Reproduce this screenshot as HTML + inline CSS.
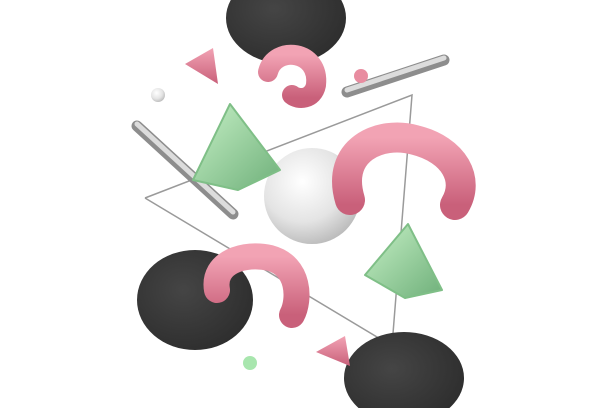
<!DOCTYPE html>
<html><head><meta charset="utf-8"><style>
html,body{margin:0;padding:0;background:#fff;width:612px;height:408px;overflow:hidden}
</style></head><body>
<svg width="612" height="408" viewBox="0 0 612 408">
<defs>
<radialGradient id="sph" cx="0.4" cy="0.35" r="0.7"><stop offset="0" stop-color="#ffffff"/><stop offset="0.6" stop-color="#e4e4e4"/><stop offset="1" stop-color="#b8b8b8"/></radialGradient>
<radialGradient id="dk" cx="0.4" cy="0.4" r="0.7"><stop offset="0" stop-color="#454545"/><stop offset="1" stop-color="#2c2c2c"/></radialGradient>
<linearGradient id="pk" x1="0" y1="0" x2="0" y2="1"><stop offset="0" stop-color="#f2a3b4"/><stop offset="1" stop-color="#c9607a"/></linearGradient>
<linearGradient id="gr" x1="0" y1="0" x2="1" y2="1"><stop offset="0" stop-color="#c6f0c6"/><stop offset="1" stop-color="#6fb07a"/></linearGradient>
<linearGradient id="rod" x1="0" y1="0" x2="0" y2="1"><stop offset="0" stop-color="#f2f2f2"/><stop offset="1" stop-color="#9a9a9a"/></linearGradient>
</defs>
<g fill="none" stroke="#9a9a9a" stroke-width="1.5">
<polyline points="145,198 412,95 392,346 145,198"/>
</g>
<ellipse cx="286" cy="18" rx="60" ry="46" fill="url(#dk)"/>
<ellipse cx="195" cy="300" rx="58" ry="50" fill="url(#dk)"/>
<ellipse cx="404" cy="378" rx="60" ry="46" fill="url(#dk)"/>
<line x1="137" y1="126" x2="233" y2="214" stroke="#8d8d8d" stroke-width="11" stroke-linecap="round"/>
<line x1="137" y1="124" x2="233" y2="212" stroke="#dcdcdc" stroke-width="5" stroke-linecap="round"/>
<line x1="347" y1="92" x2="444" y2="60" stroke="#8d8d8d" stroke-width="11" stroke-linecap="round"/>
<line x1="347" y1="90" x2="444" y2="58" stroke="#dcdcdc" stroke-width="5" stroke-linecap="round"/>
<circle cx="312" cy="196" r="48" fill="url(#sph)"/>
<circle cx="158" cy="95" r="7" fill="url(#sph)"/>
<circle cx="361" cy="76" r="7" fill="#e88ca0"/>
<circle cx="250" cy="363" r="7" fill="#a8e6ae"/>
<path d="M268,72 C275,45 320,50 316,85 C313,100 298,100 292,95" fill="none" stroke="url(#pk)" stroke-width="20" stroke-linecap="round"/>
<path d="M350,200 C335,150 380,130 415,140 C455,150 470,180 455,205" fill="none" stroke="url(#pk)" stroke-width="30" stroke-linecap="round"/>
<path d="M217,290 C212,262 245,252 270,258 C300,266 300,300 292,315" fill="none" stroke="url(#pk)" stroke-width="26" stroke-linecap="round"/>
<polygon points="230,104 280,170 238,190 193,180" fill="url(#gr)" stroke="#7fbf87" stroke-width="2" stroke-linejoin="round"/>
<polygon points="408,224 442,290 405,298 365,275" fill="url(#gr)" stroke="#7fbf87" stroke-width="2" stroke-linejoin="round"/>
<polygon points="185,64 213,48 218,84" fill="url(#pk)" stroke-linejoin="round"/>
<polygon points="316,352 345,336 350,366" fill="url(#pk)" stroke-linejoin="round"/>
</svg>
</body></html>
